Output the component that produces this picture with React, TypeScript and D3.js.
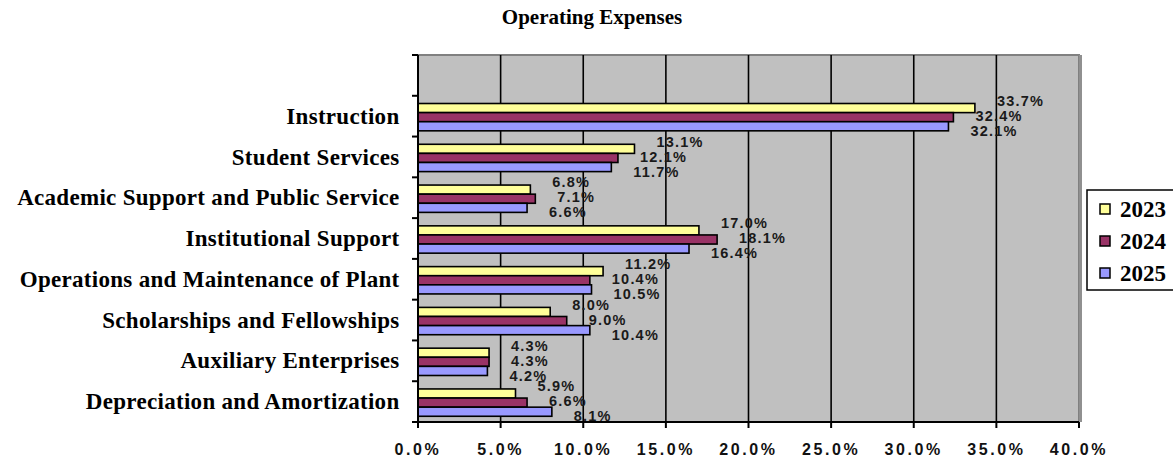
import * as React from 'react';
import { useRef, useEffect } from 'react';
import * as d3 from 'd3';

const categories = [
  'Instruction',
  'Student Services',
  'Academic Support and Public Service',
  'Institutional Support',
  'Operations and Maintenance of Plant',
  'Scholarships and Fellowships',
  'Auxiliary Enterprises',
  'Depreciation and Amortization',
];
const years = ['2023', '2024', '2025'];
const values2023 = [33.7, 13.1, 6.8, 17.0, 11.2, 8.0, 4.3, 5.9];
const values2024 = [32.4, 12.1, 7.1, 18.1, 10.4, 9.0, 4.3, 6.6];
const values2025 = [32.1, 11.7, 6.6, 16.4, 10.5, 10.4, 4.2, 8.1];
const xTicks = [0, 5, 10, 15, 20, 25, 30, 35, 40];
const colors = ['#FFFF99', '#993366', '#9999FF'];

const serif = '"Liberation Serif", "Times New Roman", serif';
const sans = '"Liberation Sans", Arial, sans-serif';

export default function App() {
  const svgRef = useRef<SVGSVGElement>(null);
  const width = 1173;
  const height = 461;
  const plot = { left: 418, right: 1079, top: 55, bottom: 422 };

  useEffect(() => {
    if (!svgRef.current) return;
    const svg = d3.select(svgRef.current);
    svg.selectAll('*').remove();

    const series = [values2023, values2024, values2025];

    const x = d3.scaleLinear().domain([0, 40]).range([plot.left, plot.right]);
    // blank slot at the top, like the original sheet
    const y = d3.scaleBand<string>()
      .domain(['', ...categories])
      .range([plot.top, plot.bottom]);
    const band = y.bandwidth();
    const groupH = band * 0.67;
    const inner = d3.scaleBand<string>().domain(years).range([0, groupH]);

    // title
    svg.append('text')
      .attr('x', 592).attr('y', 24)
      .attr('text-anchor', 'middle')
      .attr('font-family', serif).attr('font-weight', 'bold').attr('font-size', 21)
      .text('Operating Expenses');

    // plot background
    svg.append('rect')
      .attr('x', plot.left).attr('y', plot.top)
      .attr('width', plot.right - plot.left).attr('height', plot.bottom - plot.top)
      .attr('fill', '#C0C0C0')
      .attr('stroke', '#808080').attr('stroke-width', 2);
    svg.append('line')
      .attr('x1', plot.right + 1.5).attr('x2', plot.right + 1.5)
      .attr('y1', plot.top).attr('y2', plot.bottom)
      .attr('stroke', '#909090').attr('stroke-width', 3);

    // gridlines
    svg.append('g')
      .selectAll('line')
      .data(xTicks.filter((t) => t > 0 && t < 40))
      .join('line')
      .attr('x1', (d) => x(d)).attr('x2', (d) => x(d))
      .attr('y1', plot.top).attr('y2', plot.bottom)
      .attr('stroke', '#000').attr('stroke-width', 1.6);

    // bars
    categories.forEach((cat, ci) => {
      const y0 = (y(cat) as number) + (band - groupH) / 2 + 1;
      svg.append('g')
        .selectAll('rect')
        .data(years)
        .join('rect')
        .attr('x', x(0))
        .attr('y', (yr) => y0 + (inner(yr) as number))
        .attr('width', (yr, i) => x(series[i][ci]) - x(0))
        .attr('height', inner.bandwidth())
        .attr('fill', (yr, i) => colors[i])
        .attr('stroke', '#000')
        .attr('stroke-width', 1.6);
    });

    // value labels
    const lblG = svg.append('g')
      .attr('font-family', sans).attr('font-weight', 'bold').attr('font-size', 14.5)
      .attr('letter-spacing', 1.2).attr('fill', '#1a1a1a');
    const labelStep = 15;
    categories.forEach((cat, ci) => {
      const cy = (y(cat) as number) + band / 2 - 0.5;
      years.forEach((yr, i) => {
        const v = series[i][ci];
        lblG.append('text')
          .attr('x', x(v) + 22)
          .attr('y', cy + (i - 1) * labelStep)
          .attr('dy', '0.36em')
          .text(`${v.toFixed(1)}%`);
      });
    });

    // y axis
    svg.append('line')
      .attr('x1', plot.left).attr('x2', plot.left)
      .attr('y1', plot.top).attr('y2', plot.bottom)
      .attr('stroke', '#000').attr('stroke-width', 2);
    const yTickPos = [...y.domain().map((d) => y(d) as number), plot.bottom];
    svg.append('g')
      .selectAll('line')
      .data(yTickPos)
      .join('line')
      .attr('x1', plot.left - 6).attr('x2', plot.left)
      .attr('y1', (d) => d).attr('y2', (d) => d)
      .attr('stroke', '#000').attr('stroke-width', 2);

    svg.append('g')
      .attr('font-family', serif).attr('font-weight', 'bold').attr('font-size', 23)
      .attr('letter-spacing', 0.3).attr('text-anchor', 'end').attr('fill', '#000')
      .selectAll('text')
      .data(categories)
      .join('text')
      .attr('x', 399.5)
      .attr('y', (d) => (y(d) as number) + band / 2)
      .attr('dy', '0.33em')
      .text((d) => d);

    // x axis
    svg.append('line')
      .attr('x1', plot.left - 6).attr('x2', plot.right)
      .attr('y1', plot.bottom).attr('y2', plot.bottom)
      .attr('stroke', '#000').attr('stroke-width', 2);
    svg.append('g')
      .selectAll('line')
      .data(xTicks)
      .join('line')
      .attr('x1', (d) => x(d)).attr('x2', (d) => x(d))
      .attr('y1', plot.bottom).attr('y2', plot.bottom + 6)
      .attr('stroke', '#000').attr('stroke-width', 2);
    svg.append('g')
      .attr('font-family', sans).attr('font-weight', 'bold').attr('font-size', 16)
      .attr('letter-spacing', 2.6).attr('text-anchor', 'middle').attr('fill', '#111')
      .selectAll('text')
      .data(xTicks)
      .join('text')
      .attr('x', (d) => x(d))
      .attr('y', 449)
      .attr('dy', '0.36em')
      .text((d) => `${d.toFixed(1)}%`);

    // legend
    const legG = svg.append('g');
    const legTop = 190;
    const legRow = 32;
    legG.append('rect')
      .attr('x', 1087).attr('y', legTop)
      .attr('width', 90).attr('height', legRow * 3 + 4)
      .attr('fill', '#fff').attr('stroke', '#000').attr('stroke-width', 1.5);
    years.forEach((yr, i) => {
      const cy = legTop + 19 + legRow * i;
      legG.append('rect')
        .attr('x', 1100).attr('y', cy - 5)
        .attr('width', 10).attr('height', 10)
        .attr('fill', colors[i]).attr('stroke', '#000').attr('stroke-width', 1.5);
      legG.append('text')
        .attr('x', 1120).attr('y', cy)
        .attr('dy', '0.33em')
        .attr('font-family', serif).attr('font-weight', 'bold').attr('font-size', 23)
        .text(yr);
    });
  }, []);

  return (
    <svg
      ref={svgRef}
      width={width}
      height={height}
      style={{ position: 'absolute', left: 0, top: 0, background: '#fff' }}
    />
  );
}
